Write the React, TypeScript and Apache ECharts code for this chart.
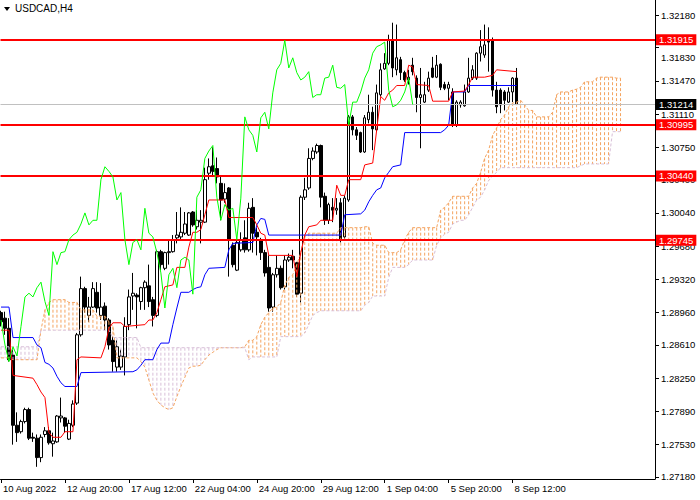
import { useEffect, useRef } from 'react';
import * as echarts from 'echarts';

const symbolTitle = 'USDCAD,H4';
const xTickBars = [0, 16, 32, 48, 64, 80, 96, 112, 128];
const xTickLabels = ['10 Aug 2022', '12 Aug 20:00', '17 Aug 12:00', '22 Aug 04:00', '24 Aug 20:00', '29 Aug 12:00', '1 Sep 04:00', '5 Sep 20:00', '8 Sep 12:00'];
const yTicks = [1.2718, 1.2753, 1.2789, 1.2825, 1.2861, 1.2896, 1.2932, 1.2968, 1.3004, 1.304, 1.3075, 1.3111, 1.3147, 1.3183, 1.3218];
const yTickShifted = [1.3183];
const levels = [1.31915, 1.30995, 1.3044, 1.29745];
const lastPrice = 1.31214;
const chikouShift = 26;

// [open, close, low, high]
const candles = [
  [1.2896, 1.2886, 1.2881, 1.2898], [1.289, 1.2879, 1.2872, 1.2897], [1.2879, 1.2845, 1.2843, 1.289], [1.285, 1.2774, 1.2753, 1.2856],
  [1.2774, 1.2766, 1.2756, 1.2788], [1.2767, 1.2778, 1.2765, 1.278], [1.2778, 1.2791, 1.2776, 1.2793], [1.2791, 1.276, 1.2758, 1.2793],
  [1.2761, 1.276, 1.2756, 1.2766], [1.276, 1.2739, 1.2729, 1.2764], [1.2739, 1.2761, 1.2734, 1.2764], [1.2764, 1.2768, 1.2761, 1.2772],
  [1.2768, 1.2755, 1.2753, 1.2772], [1.2754, 1.2757, 1.274, 1.2766], [1.2756, 1.2784, 1.2755, 1.2785], [1.2782, 1.2784, 1.2777, 1.2804],
  [1.2782, 1.2773, 1.2766, 1.2783], [1.2759, 1.2776, 1.2758, 1.278], [1.2774, 1.2797, 1.2772, 1.2801], [1.2798, 1.2872, 1.2796, 1.2874],
  [1.2872, 1.2922, 1.287, 1.2935], [1.2922, 1.2902, 1.2896, 1.2924], [1.2893, 1.2902, 1.2886, 1.2913], [1.2902, 1.2922, 1.2901, 1.2929],
  [1.2918, 1.2901, 1.2896, 1.2929], [1.2893, 1.2902, 1.2888, 1.2928], [1.2903, 1.2888, 1.2877, 1.2907], [1.2888, 1.2861, 1.2856, 1.289],
  [1.2866, 1.2843, 1.2832, 1.287], [1.2837, 1.2859, 1.2832, 1.2866], [1.2837, 1.2849, 1.2834, 1.2856], [1.2848, 1.2881, 1.2828, 1.2891],
  [1.2883, 1.2913, 1.2877, 1.2921], [1.2914, 1.2917, 1.2899, 1.2939], [1.2915, 1.2913, 1.2879, 1.2917], [1.2908, 1.2923, 1.2899, 1.2924],
  [1.2923, 1.2929, 1.2899, 1.2931], [1.2925, 1.2908, 1.2902, 1.2948], [1.291, 1.2893, 1.2881, 1.2913], [1.2893, 1.2962, 1.2891, 1.2964],
  [1.2962, 1.2948, 1.2942, 1.2964], [1.2944, 1.2961, 1.2942, 1.2962], [1.2961, 1.2962, 1.2948, 1.2975], [1.2962, 1.2975, 1.2961, 1.298],
  [1.2977, 1.298, 1.2971, 1.3005], [1.2978, 1.2983, 1.2975, 1.301], [1.2982, 1.2992, 1.298, 1.3005], [1.298, 1.3004, 1.2979, 1.3005],
  [1.3005, 1.2991, 1.2989, 1.3006], [1.2989, 1.2996, 1.2986, 1.3007], [1.2994, 1.2996, 1.2971, 1.3007], [1.2994, 1.304, 1.2993, 1.3053],
  [1.3047, 1.3054, 1.304, 1.3063], [1.3055, 1.3049, 1.3043, 1.3075], [1.3052, 1.3043, 1.3036, 1.3064], [1.3036, 1.3018, 1.2996, 1.3043],
  [1.3019, 1.3026, 1.3015, 1.3036], [1.3031, 1.2975, 1.2935, 1.3032], [1.2969, 1.2948, 1.2945, 1.2972], [1.2942, 1.2972, 1.2941, 1.2975],
  [1.2964, 1.2975, 1.2962, 1.2983], [1.2977, 1.2964, 1.2961, 1.2996], [1.2964, 1.3009, 1.2962, 1.3015], [1.301, 1.2982, 1.2961, 1.302],
  [1.2983, 1.2978, 1.2958, 1.2988], [1.2975, 1.2961, 1.2953, 1.2977], [1.2961, 1.2939, 1.2935, 1.2964], [1.2945, 1.2901, 1.2897, 1.2958],
  [1.2902, 1.2937, 1.2897, 1.2939], [1.2937, 1.2944, 1.2934, 1.2958], [1.2944, 1.2923, 1.2921, 1.2947], [1.2924, 1.2953, 1.2921, 1.2958],
  [1.2953, 1.2956, 1.2951, 1.296], [1.2957, 1.2953, 1.2944, 1.2964], [1.295, 1.2916, 1.2913, 1.2951], [1.2917, 1.3021, 1.2907, 1.3023],
  [1.3021, 1.3029, 1.3018, 1.3042], [1.3031, 1.3063, 1.3029, 1.3074], [1.3063, 1.3071, 1.3061, 1.3075], [1.307, 1.3077, 1.3068, 1.3079],
  [1.3077, 1.3021, 1.301, 1.3078], [1.3022, 1.2996, 1.2991, 1.3026], [1.2996, 1.3013, 1.2992, 1.3015], [1.301, 1.3007, 1.2994, 1.302],
  [1.3007, 1.3009, 1.3002, 1.302], [1.3015, 1.2975, 1.2972, 1.302], [1.2978, 1.302, 1.2975, 1.3023], [1.3018, 1.3108, 1.3016, 1.311],
  [1.3108, 1.3094, 1.3088, 1.311], [1.3094, 1.3088, 1.3083, 1.3097], [1.3091, 1.307, 1.3069, 1.3092], [1.307, 1.3107, 1.3069, 1.311],
  [1.3105, 1.3113, 1.3101, 1.3132], [1.3113, 1.3095, 1.3072, 1.3119], [1.3094, 1.3134, 1.3092, 1.3143], [1.3132, 1.3159, 1.313, 1.3166],
  [1.316, 1.3166, 1.3159, 1.3177], [1.3166, 1.3191, 1.3164, 1.3197], [1.3191, 1.3161, 1.3151, 1.321], [1.3159, 1.3172, 1.3153, 1.3208],
  [1.317, 1.3156, 1.3148, 1.3173], [1.3156, 1.3148, 1.3146, 1.3158], [1.3148, 1.3151, 1.3143, 1.3159], [1.3164, 1.3157, 1.3153, 1.3172],
  [1.315, 1.3129, 1.3113, 1.3153], [1.3129, 1.3132, 1.3074, 1.3161], [1.3124, 1.3132, 1.3123, 1.3146], [1.3137, 1.315, 1.3135, 1.3157],
  [1.3161, 1.3151, 1.315, 1.3173], [1.3151, 1.3164, 1.315, 1.3175], [1.3165, 1.314, 1.3137, 1.3166], [1.3143, 1.3139, 1.3137, 1.3146],
  [1.3139, 1.3143, 1.3126, 1.3146], [1.3135, 1.3099, 1.3097, 1.3139], [1.3099, 1.3124, 1.3097, 1.3126], [1.3121, 1.3124, 1.3118, 1.3126],
  [1.312, 1.3135, 1.3119, 1.3143], [1.3135, 1.315, 1.3134, 1.3172], [1.315, 1.3159, 1.3148, 1.3164], [1.315, 1.3177, 1.3148, 1.3178],
  [1.3177, 1.3184, 1.3168, 1.3202], [1.3175, 1.3186, 1.3172, 1.3208], [1.3191, 1.3189, 1.3157, 1.3205], [1.3191, 1.3137, 1.313, 1.3194],
  [1.3137, 1.3119, 1.3112, 1.3146], [1.3137, 1.3121, 1.3112, 1.3139], [1.3135, 1.3126, 1.3115, 1.3137], [1.3124, 1.3135, 1.3123, 1.314],
  [1.3135, 1.315, 1.3124, 1.3151], [1.315, 1.31214, 1.3121, 1.3161],
];

// [bar, price] vertices
const tenkan = [
  [0, 1.2877], [2, 1.2877], [3, 1.2828], [8, 1.2825], [9, 1.2818], [10, 1.281], [11, 1.2804], [12, 1.2766], [13, 1.2761], [15, 1.2761],
  [16, 1.2767], [18, 1.2767], [19, 1.2845], [20, 1.2848], [25, 1.2847], [26, 1.2859], [27, 1.2879], [28, 1.2885], [30, 1.2885], [31, 1.2881],
  [36, 1.2883], [37, 1.2888], [38, 1.2888], [39, 1.2896], [40, 1.291], [41, 1.2924], [43, 1.2926], [44, 1.2945], [46, 1.2945], [47, 1.2967],
  [48, 1.2983], [49, 1.2983], [50, 1.2986], [51, 1.3002], [52, 1.3018], [56, 1.3018], [57, 1.2999], [63, 1.2999], [64, 1.2991], [65, 1.2982],
  [66, 1.298], [67, 1.2958], [73, 1.2958], [74, 1.2935], [75, 1.2961], [76, 1.298], [77, 1.2989], [79, 1.2991], [80, 1.2996], [83, 1.2996],
  [84, 1.3034], [85, 1.3023], [86, 1.3023], [87, 1.304], [90, 1.304], [91, 1.3056], [93, 1.3058], [94, 1.3094], [95, 1.313], [96, 1.3126],
  [97, 1.3134], [98, 1.3137], [99, 1.3142], [101, 1.3142], [102, 1.3164], [103, 1.3162], [104, 1.3143], [107, 1.3142], [108, 1.3125], [112, 1.3125],
  [113, 1.3135], [116, 1.3136], [117, 1.3143], [118, 1.3151], [121, 1.3151], [123, 1.3153], [124, 1.3159], [129, 1.3157],
];
const kijun = [
  [0, 1.2902], [2, 1.2902], [3, 1.2869], [8, 1.2869], [9, 1.2861], [10, 1.2858], [11, 1.2842], [12, 1.284], [13, 1.2836], [14, 1.2827],
  [15, 1.282], [16, 1.2816], [19, 1.2816], [20, 1.2831], [33, 1.2832], [34, 1.2834], [35, 1.2839], [36, 1.2845], [38, 1.2845], [39, 1.2856],
  [40, 1.2863], [42, 1.2863], [43, 1.2883], [44, 1.2901], [45, 1.2918], [47, 1.2918], [48, 1.2921], [49, 1.2923], [50, 1.2924], [51, 1.2937],
  [52, 1.2944], [56, 1.2945], [57, 1.2964], [58, 1.2971], [63, 1.2972], [64, 1.2991], [65, 1.2998], [66, 1.2997], [67, 1.298], [85, 1.298],
  [86, 1.3002], [90, 1.3003], [91, 1.3007], [92, 1.3016], [93, 1.3023], [94, 1.3029], [95, 1.3031], [96, 1.3042], [97, 1.3048], [98, 1.3054],
  [100, 1.3056], [101, 1.3091], [110, 1.3091], [111, 1.3094], [112, 1.3099], [113, 1.3135], [116, 1.3135], [117, 1.3142], [129, 1.3142],
];

// one value per bar, 0..155
const spanA = [
  1.2847, 1.2847, 1.2847, 1.2845, 1.2845, 1.2845, 1.2845, 1.2845, 1.2845, 1.2845,
  1.2877, 1.2899, 1.2907, 1.291, 1.291, 1.291, 1.291, 1.2907, 1.2907, 1.2907,
  1.2899, 1.2899, 1.2899, 1.2899, 1.2892, 1.2892, 1.2892, 1.2886, 1.2881, 1.2847,
  1.2847, 1.2847, 1.2847, 1.2847, 1.2847, 1.2843, 1.2837, 1.2823, 1.2809, 1.2801,
  1.2796, 1.2793, 1.2791, 1.2793, 1.2805, 1.2816, 1.2826, 1.2836, 1.2838, 1.2838,
  1.2839, 1.2845, 1.285, 1.2853, 1.2856, 1.2858, 1.2858, 1.2858, 1.2858, 1.2858,
  1.2858, 1.2859, 1.2866, 1.2866, 1.287, 1.2883, 1.2891, 1.2896, 1.2901, 1.2902,
  1.2907, 1.2926, 1.2934, 1.2937, 1.2948, 1.2961, 1.2978, 1.2982, 1.2982, 1.2982,
  1.2982, 1.2982, 1.2982, 1.2982, 1.2982, 1.2988, 1.2988, 1.2988, 1.2988, 1.2988,
  1.2988, 1.2989, 1.2989, 1.2971, 1.2969, 1.2969, 1.2969, 1.2961, 1.2961, 1.2961,
  1.2964, 1.2975, 1.2983, 1.2988, 1.2988, 1.2988, 1.2988, 1.2988, 1.2988, 1.2988,
  1.3007, 1.301, 1.3015, 1.3022, 1.3022, 1.3022, 1.3022, 1.3022, 1.3031, 1.3036,
  1.3048, 1.3063, 1.3072, 1.3088, 1.3096, 1.3105, 1.311, 1.3119, 1.3123, 1.3124,
  1.3126, 1.3121, 1.3115, 1.3115, 1.3108, 1.3108, 1.3108, 1.3108, 1.3113, 1.3132,
  1.3135, 1.3135, 1.3135, 1.3137, 1.3138, 1.314, 1.3146, 1.3146, 1.3146, 1.315,
  1.3151, 1.3151, 1.3151, 1.3151, 1.315, 1.315,
];
const spanB = [
  1.2859, 1.2859, 1.2859, 1.2859, 1.2859, 1.2859, 1.2859, 1.2859, 1.2859, 1.2859,
  1.2877, 1.2877, 1.2877, 1.2877, 1.2877, 1.2877, 1.2877, 1.2877, 1.2877, 1.2877,
  1.2877, 1.2877, 1.2877, 1.2877, 1.2877, 1.2877, 1.2877, 1.2877, 1.2869, 1.2869,
  1.2869, 1.2869, 1.2869, 1.2869, 1.2869, 1.2858, 1.2858, 1.2858, 1.2858, 1.2858,
  1.2858, 1.2858, 1.2858, 1.2858, 1.2858, 1.2858, 1.2858, 1.2858, 1.2858, 1.2858,
  1.2858, 1.2858, 1.2858, 1.2858, 1.2858, 1.2858, 1.2858, 1.2858, 1.2858, 1.2858,
  1.2858, 1.2858, 1.2845, 1.2848, 1.2848, 1.2848, 1.2848, 1.2848, 1.2848, 1.2848,
  1.287, 1.287, 1.287, 1.287, 1.287, 1.287, 1.2874, 1.2883, 1.2893, 1.2896,
  1.2898, 1.2898, 1.2898, 1.2898, 1.2898, 1.2898, 1.2898, 1.2898, 1.2898, 1.2898,
  1.2898, 1.2904, 1.2907, 1.2914, 1.2914, 1.2914, 1.2914, 1.2934, 1.2945, 1.2945,
  1.2945, 1.2945, 1.2948, 1.2953, 1.2953, 1.2953, 1.2953, 1.2953, 1.2953, 1.2969,
  1.2977, 1.2981, 1.2983, 1.2992, 1.2994, 1.2996, 1.2996, 1.3002, 1.301, 1.3018,
  1.3021, 1.3029, 1.3039, 1.3044, 1.3048, 1.3053, 1.3053, 1.3053, 1.3053, 1.3053,
  1.3053, 1.3053, 1.3053, 1.3053, 1.3053, 1.3053, 1.3053, 1.3053, 1.3053, 1.3053,
  1.3053, 1.3053, 1.3053, 1.3053, 1.3053, 1.3055, 1.3057, 1.3057, 1.3057, 1.3057,
  1.3057, 1.3057, 1.3057, 1.3092, 1.3092, 1.3092,
];

const FONT = 'Liberation Sans';
const SANDY = '#F4A460';
const THISTLE = '#D8BFD8';

export default function App() {
  const ref = useRef<HTMLDivElement>(null);
  useEffect(() => {
    if (!ref.current) return;
    const chart = echarts.init(ref.current, null, { renderer: 'svg' });
    const candleData = candles.map((c, i) => [i, c[0], c[1], c[2], c[3]]);
    const chikou = candles.slice(chikouShift).map((c, i) => [i, c[1]]);
    // vertical kumo strokes: one segment per bar, broken by empty points
    const upKumo: any[] = [];
    const downKumo: any[] = [];
    spanA.forEach((a, i) => {
      const b = spanB[i];
      const target = a >= b ? upKumo : downKumo;
      target.push([i, Math.max(a, b)], [i, Math.min(a, b)], [i, '-']);
    });
    const spanALine = spanA.map((a, i) => [i, a]);
    const spanBLine = spanB.map((b, i) => [i, b]);

    const boxLabel = (bg: string, text: (p: any) => string) => ({
      show: true,
      position: 'end',
      distance: 1,
      formatter: text,
      backgroundColor: bg,
      color: '#fff',
      padding: [1, 3, 0, 3],
      fontSize: 9.5,
      fontFamily: FONT,
    });

    const kumoSeries = (name: string, data: any[], color: string) => ({
      type: 'line',
      name,
      data,
      showSymbol: false,
      connectNulls: false,
      z: 3,
      lineStyle: { color, width: 1, type: [3, 2] },
    });

    const option: any = {
      animation: false,
      backgroundColor: '#ffffff',
      grid: { left: 0, right: 45, top: 0, bottom: 21, containLabel: false },
      xAxis: {
        type: 'value',
        min: -0.125,
        max: 163.625,
        axisLine: { show: true, onZero: false, lineStyle: { color: '#000', width: 1 } },
        axisTick: { show: true, customValues: xTickBars, length: 4, lineStyle: { color: '#000' } },
        axisLabel: {
          customValues: xTickBars,
          formatter: (v: number) => {
            const k = xTickBars.indexOf(Math.round(v));
            return k >= 0 ? xTickLabels[k] : '';
          },
          align: 'left',
          margin: 4,
          padding: [0, 0, 0, 2],
          fontSize: 9.5,
          fontFamily: FONT,
          color: '#000',
        },
        splitLine: { show: false },
      },
      yAxis: {
        type: 'value',
        position: 'right',
        min: 1.27158,
        max: 1.32346,
        axisLine: { show: true, onZero: false, lineStyle: { color: '#000', width: 1 } },
        axisTick: { show: true, customValues: yTicks, length: 4, lineStyle: { color: '#000' } },
        axisLabel: {
          customValues: yTicks,
          formatter: (v: number) => {
            const s = v.toFixed(5);
            return yTickShifted.some((t) => Math.abs(t - v) < 1e-6) ? '{low|' + s + '}' : s;
          },
          margin: 6,
          fontSize: 9.5,
          fontFamily: FONT,
          color: '#000',
          rich: { low: { padding: [19, 0, 0, 0], fontSize: 9.5, fontFamily: FONT, color: '#000' } },
        },
        splitLine: { show: false },
      },
      graphic: [
        { type: 'polygon', shape: { points: [[4, 7], [10, 7], [7, 11]] }, style: { fill: '#000' }, z: 100 },
        { type: 'text', x: 15, y: 3, style: { text: symbolTitle, fontSize: 10, fontFamily: FONT, fill: '#000' }, z: 100 },
      ],
      series: [
        {
          type: 'candlestick',
          name: 'price',
          data: candleData,
          encode: { x: 0, y: [1, 2, 3, 4] },
          barWidth: 3,
          z: 2,
          itemStyle: { color: '#ffffff', color0: '#000000', borderColor: '#000000', borderColor0: '#000000', borderWidth: 1 },
          markLine: {
            silent: true,
            precision: 5,
            symbol: ['none', 'none'],
            lineStyle: { color: '#C0C0C0', width: 1, type: 'solid' },
            label: boxLabel('#000', () => lastPrice.toFixed(5)),
            data: [{ yAxis: lastPrice }],
          },
        },
        kumoSeries('kumoUp', upKumo, SANDY),
        kumoSeries('kumoDown', downKumo, THISTLE),
        {
          type: 'line', name: 'spanA', data: spanALine, showSymbol: false, z: 3,
          lineStyle: { color: SANDY, width: 1, type: [3, 2] },
        },
        {
          type: 'line', name: 'spanB', data: spanBLine, showSymbol: false, z: 3,
          lineStyle: { color: THISTLE, width: 1, type: [3, 2] },
        },
        {
          type: 'line', name: 'kijun', data: kijun, showSymbol: false, z: 4,
          lineStyle: { color: '#0000FF', width: 1 },
        },
        {
          type: 'line', name: 'tenkan', data: tenkan, showSymbol: false, z: 4,
          lineStyle: { color: '#FF0000', width: 1 },
        },
        {
          type: 'line', name: 'chikou', data: chikou, showSymbol: false, z: 5,
          lineStyle: { color: '#00FF00', width: 1 },
          markLine: {
            silent: true,
            precision: 5,
            symbol: ['none', 'none'],
            lineStyle: { color: '#FF0000', width: 2, type: 'solid' },
            label: boxLabel('#FF0000', (p: any) => Number(p.value).toFixed(5)),
            data: levels.map((v) => ({ yAxis: v })),
          },
        },
      ],
    };
    chart.setOption(option);
    return () => chart.dispose();
  }, []);
  return (
    <div
      ref={ref}
      style={{ position: 'fixed', left: 0, top: 0, width: 700, height: 500, background: '#fff' }}
    />
  );
}
